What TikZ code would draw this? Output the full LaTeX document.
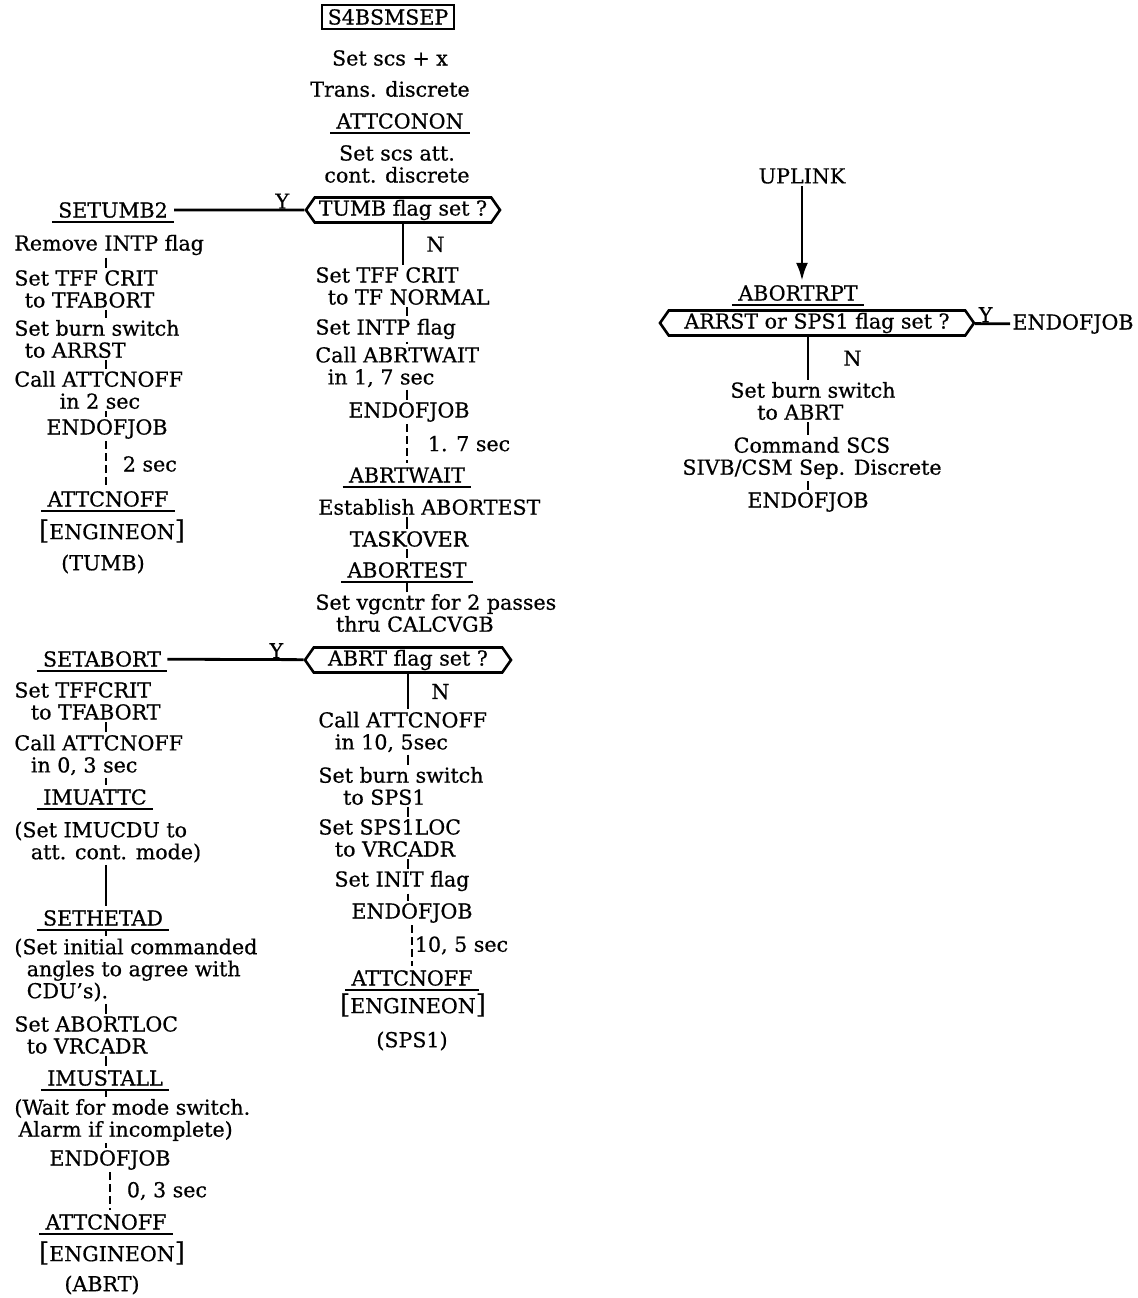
\documentclass[tikz,border=0pt]{standalone}
\usepackage{fontspec}
\setmainfont{DejaVu Serif}[FakeBold=0.6]
\usetikzlibrary{shapes,arrows.meta,positioning}
\newcommand{\bigbr}[1]{{\fontsize{13}{13}\selectfont #1}}

\begin{document}
\begin{tikzpicture}[x=0.5pt, y=-0.5pt,
    every node/.style={inner sep=1pt, font=\fontsize{10.3}{11}\selectfont},
    blk/.style={anchor=west, align=left},
    box/.style={draw, line width=1.2pt, inner xsep=3pt, inner ysep=2pt},
    sub/.style={inner xsep=3pt, inner ysep=2pt, append after command={(\tikzlastnode.south west) edge[line width=1.2pt] (\tikzlastnode.south east)}},
    ask/.style={draw, line width=1.3pt, signal, signal to=west and east, signal pointer angle=110, minimum height=12.5pt, inner ysep=1pt},
    flow/.style={line width=1.4pt},
    tick/.style={line width=0.9pt},
    wait/.style={line width=0.9pt, dash pattern=on 4pt off 2pt}]
    \useasboundingbox (0,0) rectangle (1138,1298);
    \coordinate (colL) at (106,0);
    \coordinate (colM) at (407,0);
    \coordinate (colR) at (808,0);

    \node[box] (s4b) at (388,17) {S4BSMSEP};
    \node (scsx) at (390,58) {Set scs + x};
    \node (trans) at (390,89) {Trans. discrete};
    \node[sub] (attcon) at (400,121) {ATTCONON};
    \node[align=center] (scsatt) at (397,164) {Set scs att.\\cont. discrete};
    \node[ask, minimum width=97pt] (tumb) at (403,210) {TUMB flag set ?};
    \node[sub] (setumb) at (113,210) {SETUMB2};

    \node[blk] (rmintp) at (12,245) {Remove INTP flag};
    \node[blk] (tffa) at (12,289) {Set TFF CRIT\\\hspace*{0.5em}to TFABORT};
    \node[blk] (burna) at (12,339) {Set burn switch\\\hspace*{0.5em}to ARRST};
    \node[blk] (calla) at (12,390) {Call ATTCNOFF\\\hspace*{2.2em}in 2 sec};
    \node (eojt) at (107,429) {ENDOFJOB};
    \node[sub] (attt) at (108,499) {ATTCNOFF};
    \node (engt) at (112,531) {\bigbr{[}ENGINEON\bigbr{]}};
    \node (tumbt) at (103,564) {(TUMB)};

    \node[blk] (tffn) at (313,286) {Set TFF CRIT\\\hspace*{0.6em}to TF NORMAL};
    \node[blk] (intp) at (313,329) {Set INTP flag};
    \node[blk] (callw) at (313,367) {Call ABRTWAIT\\\hspace*{0.6em}in 1, 7 sec};
    \node (eojm) at (409,412) {ENDOFJOB};
    \node[sub] (abrtw) at (407,475) {ABRTWAIT};
    \node[blk] (estab) at (316,507) {Establish ABORTEST};
    \node (taskov) at (409,539) {TASKOVER};
    \node[sub] (abtest) at (407,570) {ABORTEST};
    \node[blk] (vgcntr) at (313,613) {Set vgcntr for 2 passes\\\hspace*{1em}thru CALCVGB};
    \node[ask, minimum width=103pt] (abrtq) at (408,660) {ABRT flag set ?};
    \node[sub] (setab) at (102,659) {SETABORT};

    \node[blk] (call10) at (316,732) {Call ATTCNOFF\\\hspace*{0.8em}in 10, 5sec};
    \node[blk] (burn10) at (316,786) {Set burn switch\\\hspace*{1.2em}to SPS1};
    \node[blk] (sps1loc) at (316,838) {Set SPS1LOC\\\hspace*{0.8em}to VRCADR};
    \node (init) at (402,881) {Set INIT flag};
    \node (eojs) at (412,913) {ENDOFJOB};
    \node[sub] (atts) at (412,978) {ATTCNOFF};
    \node (engs) at (413,1005) {\bigbr{[}ENGINEON\bigbr{]}};
    \node (sps1) at (412,1041) {(SPS1)};

    \node[blk] (tffc) at (12,701) {Set TFFCRIT\\\hspace*{0.8em}to TFABORT};
    \node[blk] (call03) at (12,755) {Call ATTCNOFF\\\hspace*{0.8em}in 0, 3 sec};
    \node[sub] (imuattc) at (95,797) {IMUATTC};
    \node[blk] (imucdu) at (12,842) {(Set IMUCDU to\\\hspace*{0.8em}att. cont. mode)};
    \node[sub] (sethetad) at (103,918) {SETHETAD};
    \node[blk] (initial) at (12,970) {(Set initial commanded\\\hspace*{0.6em}angles to agree with\\\hspace*{0.6em}CDU's).};
    \node[blk] (abortloc) at (12,1035) {Set ABORTLOC\\\hspace*{0.6em}to VRCADR};
    \node[sub] (imustall) at (105,1078) {IMUSTALL};
    \node[blk] (waitm) at (12,1120) {(Wait for mode switch.\\\hspace*{0.2em}Alarm if incomplete)};
    \node (eojb) at (110,1160) {ENDOFJOB};
    \node[sub] (attb) at (106,1222) {ATTCNOFF};
    \node (engb) at (112,1253) {\bigbr{[}ENGINEON\bigbr{]}};
    \node (abrt) at (102,1285) {(ABRT)};

    \node (uplink) at (802,176) {UPLINK};
    \node[sub] (abortrpt) at (798,293) {ABORTRPT};
    \node[ask, minimum width=157pt] (arrq) at (817,323) {ARRST or SPS1 flag set ?};
    \node (eojr) at (1073,324) {ENDOFJOB};
    \node[blk] (burnr) at (728,401) {Set burn switch\\\hspace*{1.3em}to ABRT};
    \node[align=center] (cmd) at (812,458) {Command SCS\\SIVB/CSM Sep. Discrete};
    \node (eojr2) at (808,502) {ENDOFJOB};

    \draw[flow] (setumb) -- (tumb) node[pos=0.83, above=-1pt] {Y};
    \draw[flow] (tumb.south) -- (tffn.north -| tumb.south) node[midway, right=10pt] {N};
    \draw[flow] (setab) -- (abrtq) node[pos=0.8, above=-1pt] {Y};
    \draw[flow] (abrtq.south) -- (call10.north -| abrtq.south) node[midway, right=10pt] {N};
    \draw[flow, -{Latex[length=9pt, width=6pt]}] (uplink) -- (abortrpt.north -| uplink);
    \draw[flow] (arrq) -- (eojr) node[pos=0.3, above=-1pt] {Y};
    \draw[flow] (arrq.south -| colR) -- (burnr.north -| colR) node[midway, right=16pt] {N};

    \draw[tick] (rmintp.south -| colL) -- (tffa.north -| colL);
    \draw[tick] (tffa.south -| colL) -- (burna.north -| colL);
    \draw[tick] (burna.south -| colL) -- (calla.north -| colL);
    \draw[tick] (calla.south -| colL) -- (eojt.north -| colL);
    \draw[wait] (eojt.south -| colL) -- (attt.north -| colL) node[midway, right=7pt] {2 sec};

    \draw[tick] (tffn.south -| colM) -- (intp.north -| colM);
    \draw[tick] (intp.south -| colM) -- (callw.north -| colM);
    \draw[tick] (callw.south -| colM) -- (eojm.north -| colM);
    \draw[wait] (eojm.south -| colM) -- (abrtw.north -| colM) node[midway, right=9pt] {1. 7 sec};
    \draw[tick] (estab.south -| colM) -- (taskov.north -| colM);
    \draw[tick] (taskov.south -| colM) -- (abtest.north -| colM);
    \draw[tick] (abtest.south -| colM) -- (vgcntr.north -| colM);

    \draw[tick] (call10.south -| abrtq.south) -- (burn10.north -| abrtq.south);
    \draw[tick] (burn10.south -| abrtq.south) -- (sps1loc.north -| abrtq.south);
    \draw[tick] (sps1loc.south -| abrtq.south) -- (init.north -| abrtq.south);
    \draw[tick] (init.south -| abrtq.south) -- (eojs.north -| abrtq.south);
    \draw[wait] (eojs.south -| atts) -- (atts.north) node[midway, right=0pt] {10, 5 sec};

    \draw[tick] (tffc.south -| colL) -- (call03.north -| colL);
    \draw[tick] (call03.south -| colL) -- (imuattc.north -| colL);
    \draw[flow] (imucdu.south -| colL) -- (sethetad.north -| colL);
    \draw[tick] (sethetad.south -| colL) -- (initial.north -| colL);
    \draw[tick] (initial.south -| colL) -- (abortloc.north -| colL);
    \draw[tick] (abortloc.south -| colL) -- (imustall.north -| colL);
    \draw[tick] (imustall.south -| colL) -- (waitm.north -| colL);
    \draw[tick] (waitm.south -| colL) -- (eojb.north -| colL);
    \draw[wait] (eojb.south) -- (attb.north -| eojb.south) node[midway, right=7pt] {0, 3 sec};

    \draw[tick] (burnr.south -| colR) -- (cmd.north -| colR);
    \draw[tick] (cmd.south -| colR) -- (eojr2.north -| colR);
\end{tikzpicture}
\end{document}
